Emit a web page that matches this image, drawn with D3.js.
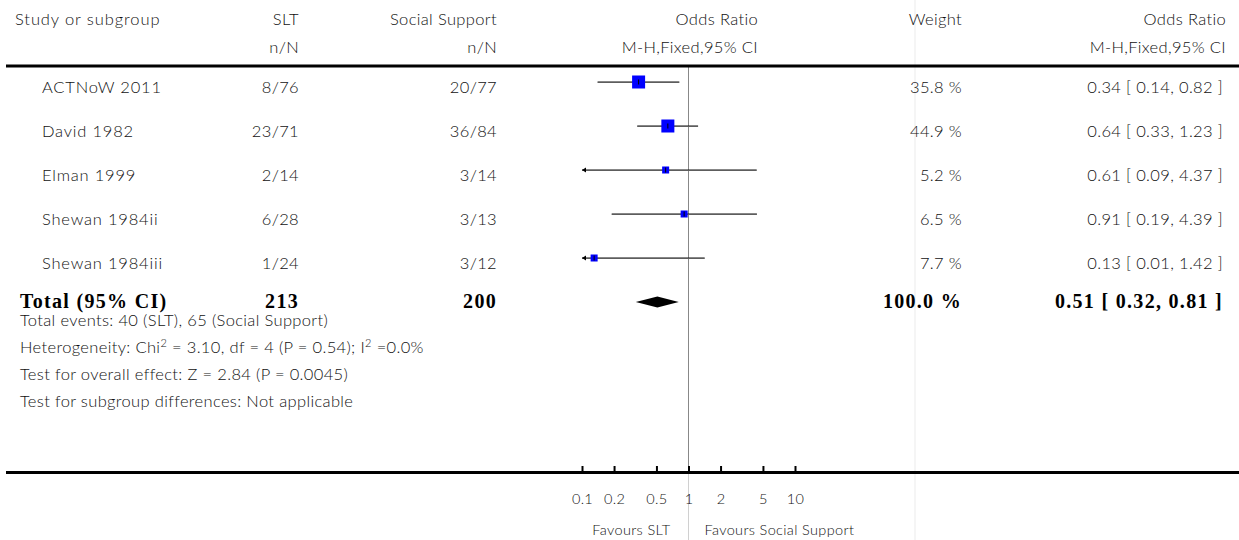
<!DOCTYPE html>
<html><head><meta charset="utf-8">
<script src="https://cdn.jsdelivr.net/npm/d3@7/dist/d3.min.js"></script>
<style>
body{margin:0;background:#fff;}
svg text{font-family:Lato, 'Noto Sans', sans-serif;font-weight:300;fill:#111;letter-spacing:0.35px;}
svg text.bold{font-family:'Liberation Serif','Times New Roman',serif;font-weight:bold;fill:#000;letter-spacing:1.3px;}
</style></head><body>
<svg id="c" width="1239" height="540"></svg>
<script>
const studies = ["ACTNoW 2011","David 1982","Elman 1999","Shewan 1984ii","Shewan 1984iii"];
const sltN = ["8/76","23/71","2/14","6/28","1/24"];
const ssN = ["20/77","36/84","3/14","3/13","3/12"];
const weights = [35.8,44.9,5.2,6.5,7.7];
const oddsRatio = [0.34,0.64,0.61,0.91,0.13];
const ciLow = [0.14,0.33,0.09,0.19,0.01];
const ciHigh = [0.82,1.23,4.37,4.39,1.42];
const totalLabel = "Total (95% CI)";
const totalSLT = 213, totalSS = 200;
const totalOR = 0.51, totalLow = 0.32, totalHigh = 0.81, totalWeight = 100.0;
const footnotes = [
  ["Total events: 40 (SLT), 65 (Social Support)"],
  ["Heterogeneity: Chi","2"," = 3.10, df = 4 (P = 0.54); I","2"," =0.0%"],
  ["Test for overall effect: Z = 2.84 (P = 0.0045)"],
  ["Test for subgroup differences: Not applicable"]
];
const tickValues = [0.1,0.2,0.5,1,2,5,10];
const tickLabels = ["0.1","0.2","0.5","1","2","5","10"];
const favoursLeft = "Favours SLT", favoursRight = "Favours Social Support";

const svg = d3.select("#c");
const W = 1239, H = 540;
const x = d3.scaleLog().domain([0.1,10]).range([582,795]);
const y = d3.scaleLinear().domain([0,1]).range([82,126]); // row centers
const boxSize = d3.scaleThreshold().domain([20]).range([7,13]);

const colStudy = 42, colStudyHead = 15, colSLT = 299, colSS = 497, colORHead = 758, colW = 962, colOR = 1223;
const fs = 16.5;

// faint weight-column line
svg.append("line").attr("x1",915).attr("x2",915).attr("y1",0).attr("y2",H).attr("stroke","#ebebeb").attr("stroke-width",1);

// header
const head = svg.append("g").attr("font-size",fs);
head.append("text").attr("x",colStudyHead).attr("y",25).style("letter-spacing","0.9px").text("Study or subgroup");
head.append("text").attr("x",colSLT).attr("y",25).attr("text-anchor","end").text("SLT");
head.append("text").attr("x",colSS).attr("y",25).attr("text-anchor","end").text("Social Support");
head.append("text").attr("x",colORHead).attr("y",25).attr("text-anchor","end").text("Odds Ratio");
head.append("text").attr("x",colW).attr("y",25).attr("text-anchor","end").text("Weight");
head.append("text").attr("x",colOR+3).attr("y",25).attr("text-anchor","end").text("Odds Ratio");
head.append("text").attr("x",colSLT).attr("y",53).attr("text-anchor","end").text("n/N");
head.append("text").attr("x",colSS).attr("y",53).attr("text-anchor","end").text("n/N");
head.append("text").attr("x",colORHead).attr("y",53).attr("text-anchor","end").text("M-H,Fixed,95% CI");
head.append("text").attr("x",colOR+3).attr("y",53).attr("text-anchor","end").text("M-H,Fixed,95% CI");

// center line
svg.append("line").attr("x1",x(1)).attr("x2",x(1)).attr("y1",66).attr("y2",471).attr("stroke","#888").attr("stroke-width",1);
svg.append("line").attr("x1",x(1)).attr("x2",x(1)).attr("y1",474).attr("y2",H).attr("stroke","#d0d0d0").attr("stroke-width",1);

// header rule
svg.append("rect").attr("x",6).attr("y",64.5).attr("width",W-6).attr("height",3).attr("fill","#000");

// study rows
const rows = svg.append("g").attr("font-size",fs);
studies.forEach((s,i)=>{
  const cy = y(i), ty = cy+11;
  rows.append("text").attr("x",colStudy).attr("y",ty).style("letter-spacing","0.8px").text(s);
  rows.append("text").attr("x",colSLT).attr("y",ty).attr("text-anchor","end").text(sltN[i]);
  rows.append("text").attr("x",colSS).attr("y",ty).attr("text-anchor","end").text(ssN[i]);
  rows.append("text").attr("x",colW).attr("y",ty).attr("text-anchor","end").text(weights[i].toFixed(1)+" %");
  rows.append("text").attr("x",colOR).attr("y",ty).attr("text-anchor","end")
    .text(oddsRatio[i].toFixed(2)+" [ "+ciLow[i].toFixed(2)+", "+ciHigh[i].toFixed(2)+" ]");
  const [d0,d1] = x.domain();
  const lo = Math.max(ciLow[i],d0), hi = Math.min(ciHigh[i],d1);
  rows.append("line").attr("x1",x(lo)).attr("x2",x(hi)).attr("y1",cy+0.5).attr("y2",cy+0.5).attr("stroke","#aaa").attr("stroke-width",1);
  rows.append("line").attr("x1",x(lo)).attr("x2",x(hi)).attr("y1",cy).attr("y2",cy).attr("stroke","#111").attr("stroke-width",1.2);
  if (ciLow[i] < d0) {
    const ax = x(d0);
    rows.append("path").attr("d",`M${ax},${cy} L${ax+4},${cy-2.5} L${ax+4},${cy+2.5} Z`).attr("fill","#000");
  }
  const b = boxSize(weights[i]);
  rows.append("rect").attr("x",x(oddsRatio[i])-b/2).attr("y",cy-b/2).attr("width",b).attr("height",b).attr("fill","#0000ff");
  rows.append("line").attr("x1",x(oddsRatio[i])).attr("x2",x(oddsRatio[i])).attr("y1",cy-2.5).attr("y2",cy+2.5).attr("stroke","#000").attr("stroke-width",1);
});

// total row
const ty0 = y(studies.length);
const tot = svg.append("g").attr("font-size",20);
const tb = ty0 + 6;
tot.append("text").attr("class","bold").attr("x",20).attr("y",tb).text(totalLabel);
tot.append("text").attr("class","bold").attr("x",colSLT).attr("y",tb).attr("text-anchor","end").text(totalSLT);
tot.append("text").attr("class","bold").attr("x",colSS).attr("y",tb).attr("text-anchor","end").text(totalSS);
tot.append("text").attr("class","bold").attr("x",colW).attr("y",tb).attr("text-anchor","end").text(totalWeight.toFixed(1)+" %");
tot.append("text").attr("class","bold").attr("x",colOR).attr("y",tb).attr("text-anchor","end")
  .text(totalOR.toFixed(2)+" [ "+totalLow.toFixed(2)+", "+totalHigh.toFixed(2)+" ]");
svg.append("path")
  .attr("d",`M${x(totalLow)},${ty0} L${x(totalOR)},${ty0-5.5} L${x(totalHigh)},${ty0} L${x(totalOR)},${ty0+5.5} Z`)
  .attr("fill","#000");

// footnotes
const fn = svg.append("g").attr("font-size",fs);
footnotes.forEach((parts,i)=>{
  const t = fn.append("text").attr("x",20).attr("y",326+27*i);
  parts.forEach((p,j)=>{
    if (parts.length>1 && j%2===1) t.append("tspan").attr("font-size",11).attr("baseline-shift","super").text(p);
    else t.append("tspan").text(p);
  });
});

// bottom rule
svg.append("rect").attr("x",6).attr("y",471).attr("width",W-6).attr("height",3).attr("fill","#000");

// axis
const axis = d3.axisBottom(x).tickValues(tickValues).tickFormat((d,i)=>tickLabels[i])
  .tickSizeInner(-5).tickSizeOuter(0).tickPadding(23);
const ag = svg.append("g").attr("transform","translate(0,471)").call(axis);
ag.select(".domain").remove();
ag.selectAll(".tick line").attr("stroke","#000").attr("stroke-width",2);
ag.selectAll(".tick text").attr("font-family","Lato, sans-serif").attr("font-size",14.5).attr("fill","#111");

svg.append("text").attr("x",x(1)-18).attr("y",535).attr("text-anchor","end").attr("font-size",14.5).text(favoursLeft);
svg.append("text").attr("x",x(1)+16).attr("y",535).attr("font-size",14.5).text(favoursRight);
</script></body></html>
